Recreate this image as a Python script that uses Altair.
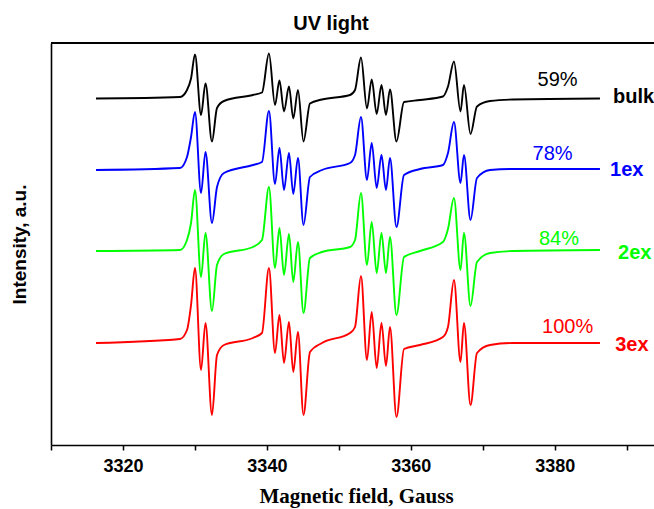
import altair as alt
import pandas as pd

# Magnetic field (Gauss) at the key points of the spectra (shared by all traces)
field = [3316.25, 3327.93, 3328.90, 3329.46, 3330.01, 3330.85, 3331.47, 3332.37, 3333.07, 3334.04,
         3338.07, 3339.32, 3340.29, 3341.13, 3341.75, 3342.38, 3343.07, 3343.67, 3344.32, 3345.09,
         3345.99, 3347.66, 3351.55, 3352.25, 3353.08, 3353.91, 3354.57, 3355.26, 3355.93, 3356.55,
         3357.11, 3358.01, 3359.06, 3361.28, 3364.47, 3365.17, 3366.00, 3366.91, 3367.39, 3368.30,
         3369.20, 3371.01, 3374.20, 3386.29]

# Intensities (a.u., relative to each trace's own baseline)
bulk = [0, 1.5, 8.5, 20, 44, -16.5, 15, -43, -9.5, -2.5, 3.5, 6, 45, -6.5, 18, -13, 12, -20, 8.5, -43,
        -5, -1, 3.5, 8.5, 41, -10, 19, -15.5, 13.5, -16.5, 9, -43, -3.5, -1.5, 2, 12, 37, -13, 13.5, -35.5,
        -8, -2.5, -1, 0]
ex1 = [-1, 1, 12, 32, 57, -24, 17, -54, -18, -4, 4, 7, 58, -15, 21, -21, 16, -25, 11, -56,
       -8, -1, 6, 14, 52, -11, 26, -19, 14, -21, 11, -58, -6, 0, 4, 16, 47, -14, 14, -51,
       -9, -1, 0, 0]
ex2 = [0, 1, 11, 28, 61, -26, 18, -60, -14, -3, 4, 11, 64, -17, 23, -24, 17, -31, 9, -62,
       -7, -1, 4, 11, 58, -14, 29, -22, 18, -22, 14, -64, -6, 0, 9, 22, 53, -19, 18, -55,
       -11, -2, 0, 1]
ex3 = [0, 4, 13, 38, 75, -27, 20, -72, -12, -2, 5, 10, 75, -10, 28, -20, 21, -29, 11, -72,
       -9, 0, 10, 16, 67, -17, 31, -25, 20, -23, 16, -74, -6, -2, 6, 16, 63, -19, 20, -62,
       -10, -2, 0, 0]

series_names = ["bulk", "1ex", "2ex", "3ex"]
series_colors = ["#000000", "#0000ff", "#00ff00", "#ff0000"]
offsets = [346.5, 276, 194, 102]

percent_labels = ["59%", "78%", "84%", "100%"]
percent_x = [3380.4, 3379.7, 3380.6, 3381.8]
percent_y = [365, 291, 206, 118]
name_x = [3388.1, 3387.7, 3388.8, 3388.4]
name_y = [348, 275, 192, 100]

tick_values = [3310, 3320, 3330, 3340, 3350, 3360, 3370, 3380, 3390]
chart_title = "UV light"

rows = []
for name, off, vals in zip(series_names, offsets, [bulk, ex1, ex2, ex3]):
    for i, (f, v) in enumerate(zip(field, vals)):
        rows.append({"series": name, "order": i, "field": f, "intensity": off + v})
df = pd.DataFrame(rows)

lab = pd.DataFrame({
    "name": series_names, "color": series_colors,
    "pct": percent_labels, "px": percent_x, "py": percent_y,
    "nx": name_x, "ny": name_y,
})

W, H = 603, 402
x_scale = alt.Scale(domain=[3310, 3393.8], nice=False, zero=False)
y_scale = alt.Scale(domain=[0, H], nice=False, zero=False)

x_axis = alt.Axis(
    values=tick_values, format="d",
    labelExpr="datum.value % 20 == 0 ? datum.label : ''",
    labelFont="Liberation Sans", labelFontSize=18, labelFontWeight="bold", labelColor="black",
    labelPadding=7, tickSize=5, tickWidth=1.5, tickColor="black",
    domainColor="black", domainWidth=1.6, grid=False,
    title="Magnetic field, Gauss", titleFont="Liberation Serif", titleFontSize=21,
    titleFontWeight="bold", titleColor="black", titleX=305, titleY=57.5,
    titleAlign="center", titleBaseline="alphabetic",
)
y_axis = alt.Axis(
    labels=False, ticks=False, grid=False, domainColor="black", domainWidth=1.6,
    title="Intensity, a.u.", titleFont="Liberation Sans", titleFontSize=19,
    titleFontWeight="bold", titleColor="black", titleX=-32, titleY=201,
    titleAngle=270, titleAlign="center", titleBaseline="middle",
)

lines = alt.Chart(df).mark_line(interpolate="monotone", strokeWidth=1.9).encode(
    x=alt.X("field:Q", scale=x_scale, axis=x_axis),
    y=alt.Y("intensity:Q", scale=y_scale, axis=y_axis),
    color=alt.Color("series:N", scale=alt.Scale(domain=series_names, range=series_colors), legend=None),
    order="order:Q",
)

border = alt.Chart(pd.DataFrame({"a": [0]})).mark_rule(color="black", strokeWidth=1.8).encode(
    x=alt.value(0), x2=alt.value(W), y=alt.value(0)
)

title_text = alt.Chart(pd.DataFrame({"t": [chart_title]})).mark_text(
    font="Liberation Sans", fontSize=20, fontWeight="bold", align="center",
    baseline="alphabetic", color="black",
).encode(x=alt.value(280), y=alt.value(-13.5), text="t:N")

pct_text = alt.Chart(lab).mark_text(
    font="Liberation Sans", fontSize=20, align="center", baseline="middle"
).encode(
    x=alt.X("px:Q", scale=x_scale), y=alt.Y("py:Q", scale=y_scale),
    text="pct:N", color=alt.Color("color:N", scale=None),
)

name_text = alt.Chart(lab).mark_text(
    font="Liberation Sans", fontSize=20, fontWeight="bold", align="left", baseline="middle"
).encode(
    x=alt.X("nx:Q", scale=x_scale), y=alt.Y("ny:Q", scale=y_scale),
    text="name:N", color=alt.Color("color:N", scale=None),
)

chart = alt.layer(lines, border, title_text, pct_text, name_text).properties(
    width=W, height=H,
    padding={"left": 51, "top": 43, "right": 0, "bottom": 64},
    autosize=alt.AutoSizeParams(type="none"),
).configure_view(stroke=None)

chart.save("out.html", embed_options={"renderer": "svg", "actions": False})
